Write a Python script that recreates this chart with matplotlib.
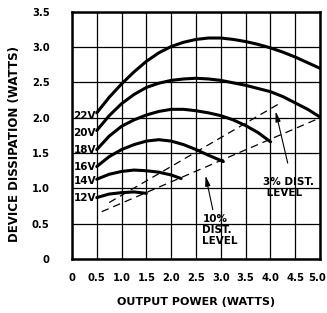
import numpy as np
import matplotlib
matplotlib.use('Agg')
import matplotlib.pyplot as plt
from matplotlib.transforms import ScaledTranslation

# supply voltage curves: output power (W) vs device dissipation (W)
x22 = [0.5, 0.75, 1.0, 1.25, 1.5, 1.75, 2.0, 2.25, 2.5, 2.75, 3.0, 3.25, 3.5, 3.75, 4.0, 4.25, 4.5, 4.75, 5.0]
y22 = [2.07, 2.29, 2.48, 2.65, 2.80, 2.92, 3.01, 3.07, 3.11, 3.13, 3.13, 3.11, 3.08, 3.04, 2.99, 2.93, 2.86, 2.78, 2.70]
x20 = [0.5, 0.75, 1.0, 1.25, 1.5, 1.75, 2.0, 2.25, 2.5, 2.75, 3.0, 3.5, 4.0, 4.25, 4.5, 4.75, 5.0]
y20 = [1.82, 2.03, 2.20, 2.33, 2.43, 2.49, 2.53, 2.55, 2.56, 2.55, 2.53, 2.46, 2.37, 2.30, 2.21, 2.12, 2.01]
x18 = [0.5, 0.75, 1.0, 1.25, 1.5, 1.75, 2.0, 2.25, 2.5, 2.75, 3.0, 3.25, 3.5, 3.75, 4.0]
y18 = [1.55, 1.74, 1.88, 1.97, 2.04, 2.09, 2.12, 2.12, 2.10, 2.07, 2.03, 1.97, 1.89, 1.79, 1.66]
x16 = [0.5, 0.75, 1.0, 1.25, 1.5, 1.75, 2.0, 2.25, 2.5, 2.75, 3.05]
y16 = [1.31, 1.45, 1.55, 1.62, 1.67, 1.69, 1.67, 1.62, 1.55, 1.47, 1.38]
x14 = [0.5, 0.75, 1.0, 1.25, 1.5, 1.75, 2.0, 2.2]
y14 = [1.13, 1.20, 1.24, 1.26, 1.25, 1.23, 1.19, 1.14]
x12 = [0.5, 0.75, 1.0, 1.25, 1.5]
y12 = [0.87, 0.92, 0.94, 0.95, 0.93]

curves = [(x22, y22, '22V'), (x20, y20, '20V'), (x18, y18, '18V'),
          (x16, y16, '16V'), (x14, y14, '14V'), (x12, y12, '12V')]
label_y = [2.02, 1.78, 1.54, 1.31, 1.11, 0.86]

# distortion level lines
x3 = [0.75, 4.2]
y3 = [0.80, 2.21]
x10 = [0.6, 5.0]
y10 = [0.67, 2.0]

xticks = ['0', '0.5', '1.0', '1.5', '2.0', '2.5', '3.0', '3.5', '4.0', '4.5', '5.0']
yticks = ['0', '0.5', '1.0', '1.5', '2.0', '2.5', '3.0', '3.5']

fig = plt.figure(figsize=(3.27, 3.13), dpi=100)
ax = fig.add_axes([0.220, 0.1725, 0.759, 0.7895])

fnt = dict(family='DejaVu Sans', fontweight='bold')

for xs, ys, lab in curves:
    ax.plot(xs, ys, color='black', lw=2.2, solid_capstyle='round')
for (xs, ys, lab), ly in zip(curves, label_y):
    ax.text(0.03, ly, lab, fontsize=7.5, va='center', ha='left', **fnt)

ax.plot(x3, y3, color='black', lw=0.9, linestyle=(0, (6, 4)))
ax.plot(x10, y10, color='black', lw=0.9, linestyle=(0, (6, 4)))

arw = dict(arrowstyle='-|>,head_length=0.6,head_width=0.15', color='black', lw=0.8)
ax.annotate('', xy=(4.09, 2.13), xytext=(4.36, 1.32), arrowprops=arw)
ax.annotate('', xy=(2.68, 1.22), xytext=(2.85, 0.66), arrowprops=arw)
ax.text(3.85, 1.16, '3% DIST.\n LEVEL', fontsize=7.5, va='top', ha='left',
        linespacing=1.15, **fnt)
ax.text(2.63, 0.64, '10%\nDIST.\nLEVEL', fontsize=7.5, va='top', ha='left',
        linespacing=1.15, **fnt)

ax.set_xlim(0, 5.0)
ax.set_ylim(0, 3.5)
ax.set_xticks(np.arange(0, 5.01, 0.5))
ax.set_yticks(np.arange(0, 3.51, 0.5))
ax.set_xticklabels(xticks)
ax.set_yticklabels(yticks)
ax.tick_params(length=0, labelsize=7.2, pad=10)
ax.tick_params(axis='y', pad=16)
for lab in ax.get_xticklabels() + ax.get_yticklabels():
    lab.set_fontweight('bold')
# nudge the last x label so it stays inside the figure
last = ax.get_xticklabels()[-1]
last.set_transform(last.get_transform() + ScaledTranslation(-3 / 100, 0, fig.dpi_scale_trans))
ax.grid(True, color='black', lw=0.9)
ax.set_axisbelow(True)
for sp in ax.spines.values():
    sp.set_linewidth(1.8)

ax.set_xlabel('OUTPUT POWER (WATTS)', fontsize=8, labelpad=10, **fnt)
fig.text(15 / 327, 0.54, 'DEVICE DISSIPATION (WATTS)', rotation=90,
         ha='center', va='center', fontsize=8.5, **fnt)

fig.savefig('out.png', dpi=100)
